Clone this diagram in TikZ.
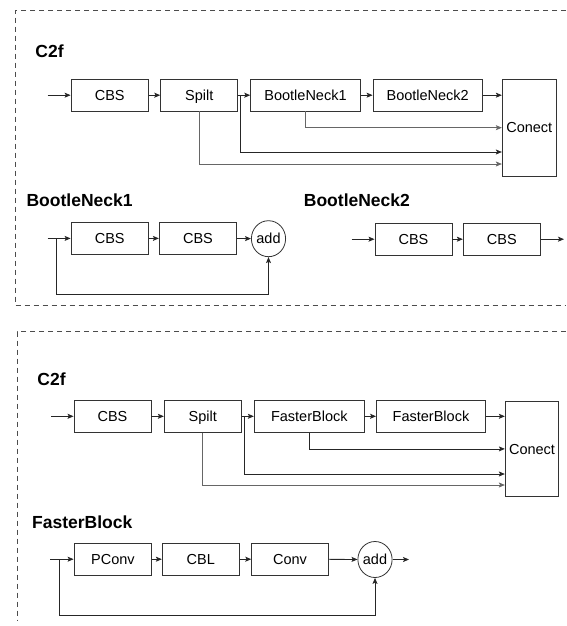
\documentclass[tikz,border=0pt]{standalone}
\usepackage{fontspec}
\setmainfont{Liberation Sans}
\usetikzlibrary{arrows.meta,shapes.geometric}
\begin{document}
\begin{tikzpicture}[x=1pt,y=-1pt,
  blk/.style={draw=black!80, line width=0.9pt, inner sep=0pt, minimum height=31.5pt,
    font=\fontsize{14.5}{17}\selectfont, text height=10.4pt, text depth=0pt},
  addn/.style={ellipse, draw=black!80, line width=0.8pt, inner sep=0pt, minimum width=31pt,
    minimum height=36pt, font=\fontsize{14.5}{17}\selectfont, text height=10.4pt, text depth=0pt},
  conn/.style={draw=black!85, line width=0.8pt, -{Stealth[length=6pt,width=5pt,inset=1.3pt]}},
  connl/.style={conn, draw=black!60},
  frame/.style={draw=black!70, line width=0.8pt, dash pattern=on 5.5pt off 3.5pt},
  ttl/.style={font=\bfseries\fontsize{17.5}{20}\selectfont, anchor=base west, inner sep=0pt},
]
\useasboundingbox (0,0) rectangle (566,626);

% ---------- top panel ----------
\draw[frame] (566,10.7) -- (15,10.7) -- (15,305) -- (566,305);
\node[ttl] (t1) at (35.2,57) {C2f};
\node[blk, minimum width=77.3pt] (a1) at (109.7,95.2) {CBS};
\node[blk, minimum width=77pt] (a2) at (199.2,95.2) {Spilt};
\node[blk, minimum width=109.6pt] (a3) at (305.5,95.2) {BootleNeck1};
\node[blk, minimum width=109.3pt] (a4) at (427.7,95.2) {BootleNeck2};
\node[blk, minimum width=54pt, minimum height=96.7pt] (a5) at (529.3,127.7) {Conect};
\coordinate (ain) at (47.7,95.2);
\coordinate (asp) at (240.7,95.2);
\coordinate (ay1) at (0,152);
\coordinate (ay2) at (0,164);
\draw[conn] (ain) -- (a1);
\draw[conn] (a1) -- (a2);
\draw[conn] (a2) -- (a3);
\draw[conn] (a3) -- (a4);
\draw[conn] (a4.east) -- (a4.east -| a5.west);
\draw[connl] (a3.south) |- (a5.west);
\draw[conn] (asp) |- (a5.west |- ay1);
\draw[connl] (a2.south) |- (a5.west |- ay2);

% BootleNeck1
\node[ttl] (t2) at (26.4,206) {BootleNeck1};
\node[blk, minimum width=77.3pt] (b1) at (109.7,238.4) {CBS};
\node[blk, minimum width=77.4pt] (b2) at (198,238.4) {CBS};
\node[addn] (b3) at (268.5,238.7) {add};
\coordinate (bin) at (47.7,238.4);
\coordinate (bl) at (56.7,238.4);
\coordinate (blb) at (56.7,294);
\draw[conn] (bin) -- (b1);
\draw[conn] (b1) -- (b2);
\draw[conn] (b2) -- (b3);
\draw[conn] (bl) -- (blb) -| (b3.south);

% BootleNeck2
\node[ttl] (t3) at (303.7,206) {BootleNeck2};
\node[blk, minimum width=77pt] (c1) at (413.5,239.2) {CBS};
\node[blk, minimum width=77pt] (c2) at (501.8,239.2) {CBS};
\coordinate (cin) at (351.7,239.2);
\coordinate (cout) at (564,239.2);
\draw[conn] (cin) -- (c1);
\draw[conn] (c1) -- (c2);
\draw[conn] (c2) -- (cout);

% ---------- bottom panel ----------
\draw[frame] (566,331.7) -- (17,331.7) -- (17,620);
\node[ttl] (t4) at (37.2,385) {C2f};
\node[blk, minimum width=77pt] (d1) at (112.5,416.3) {CBS};
\node[blk, minimum width=77pt] (d2) at (202.8,416.3) {Spilt};
\node[blk, minimum width=110pt] (d3) at (309.3,416.3) {FasterBlock};
\node[blk, minimum width=109pt] (d4) at (431,416.3) {FasterBlock};
\node[blk, minimum width=53.4pt, minimum height=95.7pt] (d5) at (532,448.9) {Conect};
\coordinate (din) at (51,416.3);
\coordinate (dsp) at (244.8,416.3);
\coordinate (dy1) at (0,474);
\coordinate (dy2) at (0,485);
\draw[conn] (din) -- (d1);
\draw[conn] (d1) -- (d2);
\draw[conn] (d2) -- (d3);
\draw[conn] (d3) -- (d4);
\draw[conn] (d4.east) -- (d4.east -| d5.west);
\draw[conn] (d3.south) |- (d5.west);
\draw[conn] (dsp) |- (d5.west |- dy1);
\draw[connl] (d2.south) |- (d5.west |- dy2);

% FasterBlock
\node[ttl] (t5) at (32,528.3) {FasterBlock};
\node[blk, minimum width=77.7pt] (e1) at (112.9,559.2) {PConv};
\node[blk, minimum width=77pt] (e2) at (200.8,559.2) {CBL};
\node[blk, minimum width=76.6pt] (e3) at (290,559.2) {Conv};
\node[addn, minimum width=30pt] (e4) at (375,559.5) {add};
\coordinate (ein) at (50,559.2);
\coordinate (el) at (59.3,559.2);
\coordinate (elb) at (59.3,615);
\coordinate (eout) at (409,559.5);
\draw[conn] (ein) -- (e1);
\draw[conn] (e1) -- (e2);
\draw[conn] (e2) -- (e3);
\draw[conn] (e3) -- (e4);
\draw[conn] (e4) -- (eout);
\draw[conn] (el) -- (elb) -| (e4.south);
\end{tikzpicture}
\end{document}
